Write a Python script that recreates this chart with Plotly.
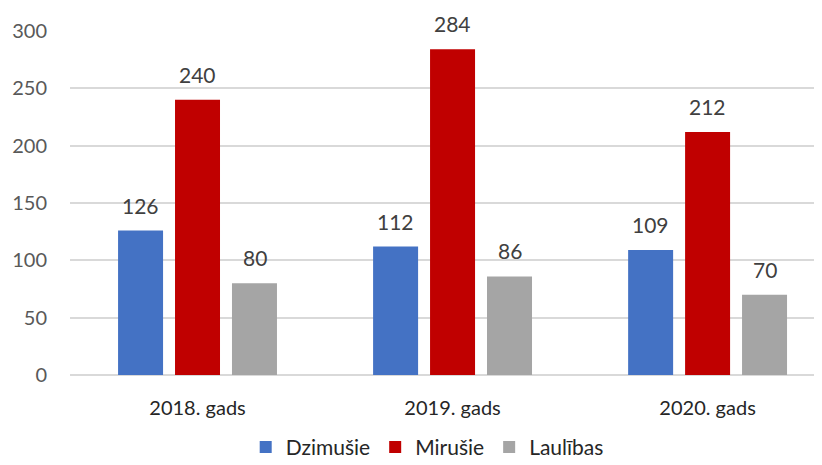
import plotly.graph_objects as go

years = ["2018. gads", "2019. gads", "2020. gads"]
series_names = ["Dzimušie", "Mirušie", "Laulības"]
dzimusie = [126, 112, 109]
mirusie = [240, 284, 212]
laulibas = [80, 86, 70]

colors = ["#4472C4", "#C00000", "#A5A5A5"]
FONT = "Lato, 'Open Sans', sans-serif"

fig = go.Figure()
all_values = [dzimusie, mirusie, laulibas]
slot_px = 57  # horizontal distance between neighbouring bars in a group

for i, (name, vals, col) in enumerate(zip(series_names, all_values, colors)):
    fig.add_trace(go.Bar(
        x=years, y=vals, name=name,
        marker=dict(color=col, line=dict(width=0)),
        cliponaxis=False,
    ))
    for yr, v in zip(years, vals):
        fig.add_annotation(
            x=yr, y=v, text=str(v), showarrow=False,
            xref="x", yref="y",
            xshift=(i - 1) * slot_px, yshift=11,
            yanchor="bottom", xanchor="center",
            font=dict(family=FONT, size=21, color="#404040"),
        )

fig.update_layout(
    width=822, height=465,
    margin=dict(l=62, r=0, t=23, b=98, autoexpand=False),
    paper_bgcolor="white", plot_bgcolor="white",
    barmode="group", bargap=0.33, bargroupgap=0.21,
    font=dict(family=FONT, size=20, color="#595959"),
    xaxis=dict(
        range=[-0.5, 2.48],
        showgrid=False, showline=False, zeroline=False,
        ticks="", ticklabelstandoff=19,
        tickfont=dict(family=FONT, size=20, color="#262626"),
        automargin=False,
    ),
    yaxis=dict(
        range=[0, 300], dtick=50,
        showgrid=True, gridcolor="#D9D9D9", gridwidth=1.5,
        zeroline=True, zerolinecolor="#D9D9D9", zerolinewidth=1.5,
        ticks="", ticklabelstandoff=22,
        tickfont=dict(family=FONT, size=20, color="#595959"),
        automargin=False,
    ),
    legend=dict(
        orientation="h", x=0.47, xanchor="center",
        y=-0.21, yanchor="middle",
        font=dict(family=FONT, size=21, color="#262626"),
        itemwidth=30,
    ),
)

fig.write_html("out.html")
